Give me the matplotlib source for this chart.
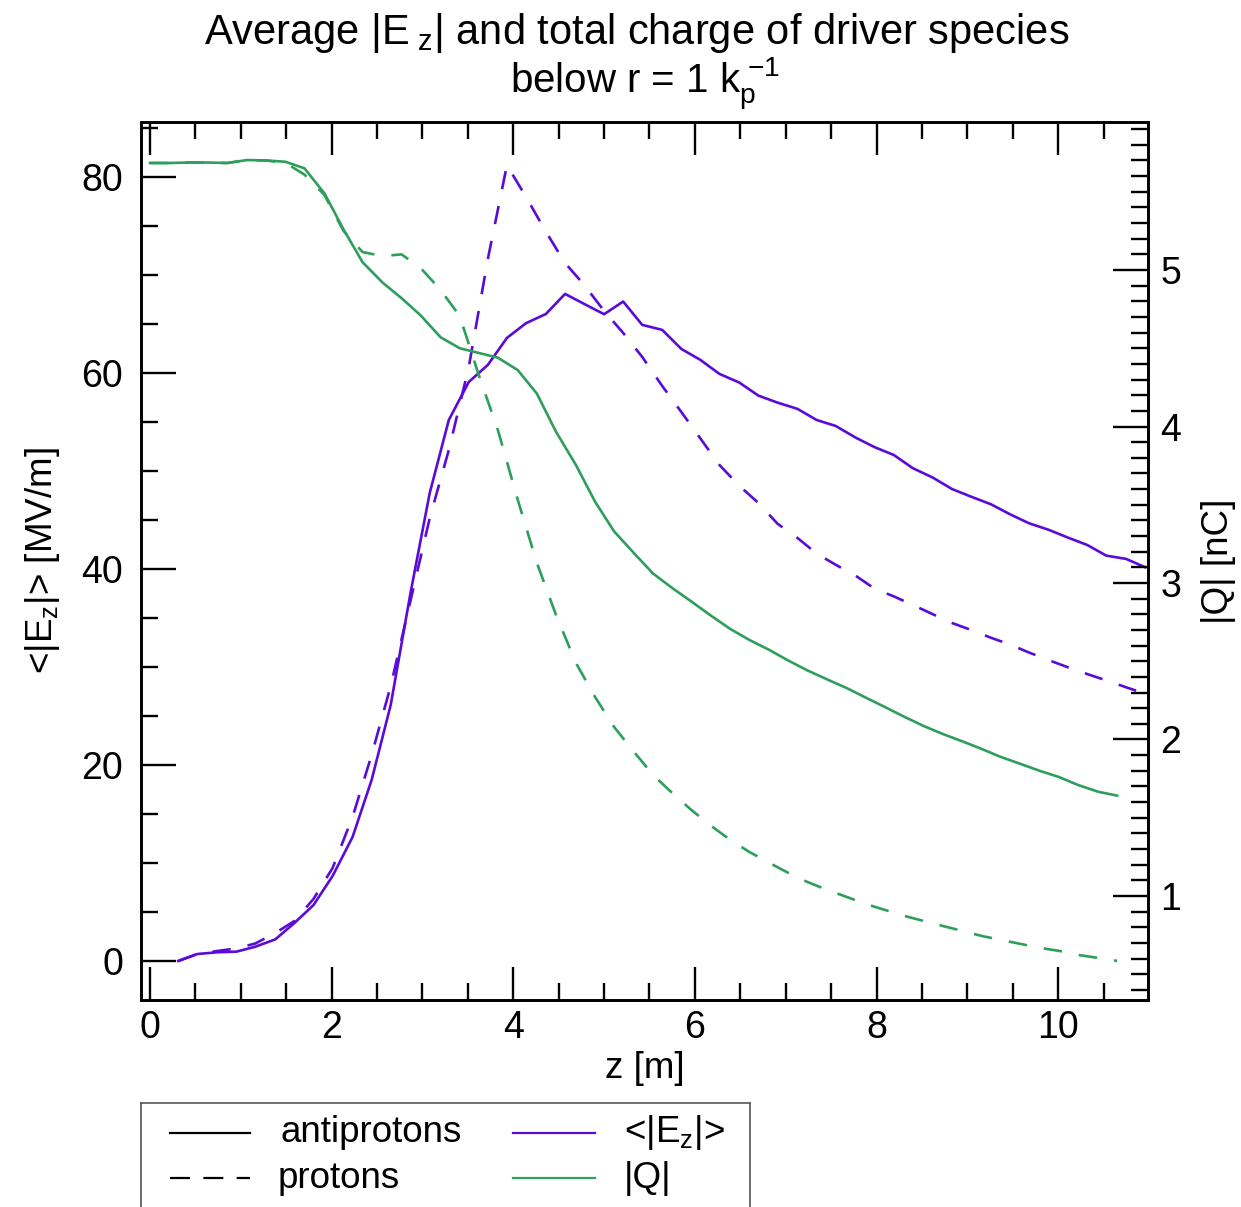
import matplotlib
matplotlib.use('Agg')
import matplotlib.pyplot as plt
from matplotlib.ticker import MultipleLocator

plt.rcParams['font.family'] = ['Liberation Sans', 'DejaVu Sans']
plt.rcParams['mathtext.fontset'] = 'custom'
plt.rcParams['mathtext.rm'] = 'Liberation Sans'
plt.rcParams['mathtext.it'] = 'Liberation Sans:italic'

# z positions [m]
z_q = [0.00, 0.21, 0.43, 0.64, 0.85, 1.07, 1.28, 1.49, 1.70, 1.92, 2.13, 2.34, 2.56,
       2.77, 2.98, 3.20, 3.41, 3.62, 3.83, 4.05, 4.26, 4.47, 4.69, 4.90, 5.11, 5.33,
       5.54, 5.75, 5.96, 6.18, 6.39, 6.60, 6.82, 7.03, 7.24, 7.46, 7.67, 7.88, 8.09,
       8.31, 8.52, 8.73, 8.95, 9.16, 9.37, 9.59, 9.80, 10.01, 10.22, 10.44, 10.65]
z_e = [0.31, 0.52, 0.74, 0.95, 1.16, 1.38, 1.59, 1.80, 2.01, 2.23, 2.44, 2.65, 2.87,
       3.08, 3.29, 3.51, 3.72, 3.93, 4.14, 4.36, 4.57, 4.78, 5.00, 5.21, 5.42, 5.64,
       5.85, 6.06, 6.27, 6.49, 6.70, 6.91, 7.13, 7.34, 7.55, 7.77, 7.98, 8.19, 8.40,
       8.62, 8.83, 9.04, 9.26, 9.47, 9.68, 9.90, 10.11, 10.32, 10.53, 10.75, 10.96]

# <|Ez|> [MV/m]
ez_anti = [0.0, 0.71, 0.89, 0.95, 1.46, 2.21, 3.88, 5.71, 8.67, 12.65, 18.47, 26.12,
           37.65, 47.76, 55.20, 59.08, 60.82, 63.57, 65.07, 66.02, 68.06, 67.04, 65.99,
           67.28, 64.90, 64.39, 62.45, 61.33, 59.90, 59.01, 57.68, 56.97, 56.33, 55.20,
           54.59, 53.40, 52.42, 51.63, 50.28, 49.32, 48.16, 47.38, 46.60, 45.58, 44.66,
           43.98, 43.19, 42.45, 41.36, 41.02, 40.17]
ez_prot = [0.0, 0.71, 1.02, 1.28, 1.79, 2.86, 4.08, 6.33, 9.49, 14.69, 21.02, 28.06,
           36.84, 45.20, 52.14, 60.61, 71.63, 81.2, 77.96, 74.39, 71.22, 68.98, 66.33,
           64.08, 61.63, 58.67, 56.02, 53.32, 50.61, 48.47, 46.73, 44.61, 43.16, 41.57,
           40.43, 39.31, 37.98, 37.20, 36.33, 35.38, 34.49, 33.78, 32.98, 32.29, 31.47,
           30.68, 29.96, 29.28, 28.63, 27.92, 27.27]

# |Q| [nC]
q_anti = [5.684, 5.684, 5.687, 5.687, 5.684, 5.703, 5.700, 5.692, 5.650, 5.490, 5.26,
          5.05, 4.92, 4.82, 4.71, 4.57, 4.50, 4.47, 4.44, 4.36, 4.21, 3.967, 3.754, 3.52,
          3.33, 3.19, 3.06, 2.968, 2.882, 2.79, 2.706, 2.636, 2.572, 2.504, 2.441, 2.383,
          2.329, 2.268, 2.208, 2.144, 2.086, 2.035, 1.987, 1.939, 1.888, 1.843, 1.799,
          1.760, 1.709, 1.666, 1.641]
q_prot = [5.684, 5.684, 5.687, 5.687, 5.684, 5.703, 5.700, 5.685, 5.61, 5.48, 5.25,
          5.115, 5.089, 5.10, 5.013, 4.872, 4.706, 4.329, 3.978, 3.530, 3.128, 2.796,
          2.489, 2.272, 2.080, 1.920, 1.773, 1.658, 1.550, 1.447, 1.358, 1.281, 1.211,
          1.147, 1.089, 1.038, 0.994, 0.949, 0.911, 0.872, 0.840, 0.808, 0.776, 0.744,
          0.719, 0.693, 0.668, 0.649, 0.623, 0.604, 0.585]

purple = '#5a0bd8'
green = '#2e9e5c'
dash = (0, (7, 6.5))
fs = 27
lfs = 26.5

W, H = 1241, 1207
fig = plt.figure(figsize=(W / 100, H / 100), dpi=100)
ax = fig.add_axes([141 / W, 1 - 1000 / H, (1148 - 141) / W, (1000 - 122) / H])
ax2 = ax.twinx()

ax.plot(z_e, ez_anti, color=purple, lw=1.9)
ax.plot(z_e, ez_prot, color=purple, lw=1.9, linestyle=dash)
ax2.plot(z_q, q_anti, color=green, lw=1.9)
ax2.plot(z_q, q_prot, color=green, lw=1.9, linestyle=dash)

ax.set_xlim(-0.1, 10.99)
ax.set_ylim(-3.98, 85.6)
ax2.set_ylim(0.335, 5.946)

ax.xaxis.set_major_locator(MultipleLocator(2))
ax.xaxis.set_minor_locator(MultipleLocator(0.5))
ax.yaxis.set_major_locator(MultipleLocator(20))
ax.yaxis.set_minor_locator(MultipleLocator(5))
ax2.yaxis.set_major_locator(MultipleLocator(1))
ax2.yaxis.set_minor_locator(MultipleLocator(0.1))

ax.tick_params(axis='x', which='both', direction='in', top=True, bottom=True,
               width=1.7, labelsize=fs, pad=7)
ax.tick_params(axis='x', which='major', length=24)
ax.tick_params(axis='x', which='minor', length=12)
ax.tick_params(axis='y', which='both', direction='in', left=True, right=False,
               width=1.7, labelsize=fs, pad=13)
ax.tick_params(axis='y', which='major', length=25)
ax.tick_params(axis='y', which='minor', length=12.5)
ax2.tick_params(axis='y', which='both', direction='in', left=False, right=True,
                width=1.7, labelsize=fs, pad=9)
ax2.tick_params(axis='y', which='major', length=25)
ax2.tick_params(axis='y', which='minor', length=12.5)
for a in (ax, ax2):
    for s in a.spines.values():
        s.set_linewidth(1.9)

ax.set_xlabel('z [m]', fontsize=lfs, labelpad=4)
ax.set_ylabel(r'<|E$_{\mathrm{z}}$|> [MV/m]', fontsize=lfs, labelpad=14)
ax2.set_ylabel('|Q| [nC]', fontsize=lfs, rotation=90, labelpad=14)

fig.text(637 / W, 1 - 33 / H, r'Average |E$_{\mathrm{\ z}}$| and total charge of driver species',
         ha='center', va='center', fontsize=30)
fig.text(645 / W, 1 - 84 / H, r'below r = 1 k$_{\mathrm{p}}^{\ \mathrm{-1}}$',
         ha='center', va='center', fontsize=29)

# legend box (runs off the bottom edge)
lax = fig.add_axes([141 / W, 1 - 1230 / H, (750 - 141) / W, (1230 - 1103) / H])
lax.set_xlim(141, 750)
lax.set_ylim(1230, 1103)
lax.set_xticks([])
lax.set_yticks([])
for s in lax.spines.values():
    s.set_linewidth(1.2)
    s.set_color('#555555')
lax.plot([170, 250], [1133, 1133], color='black', lw=1.6)
lax.plot([170, 250], [1178, 1178], color='black', lw=1.6, linestyle=(0, (9, 6)))
lax.plot([513, 595], [1133, 1133], color=purple, lw=1.6)
lax.plot([513, 595], [1178, 1178], color=green, lw=1.6)
lax.text(281, 1133, 'antiprotons', fontsize=lfs, va='center', ha='left')
lax.text(278, 1178, 'protons', fontsize=lfs, va='center', ha='left')
lax.text(624, 1133, r'<|E$_{\mathrm{z}}$|>', fontsize=lfs, va='center', ha='left')
lax.text(624, 1178, '|Q|', fontsize=lfs, va='center', ha='left')

fig.savefig('out.png', dpi=100)
